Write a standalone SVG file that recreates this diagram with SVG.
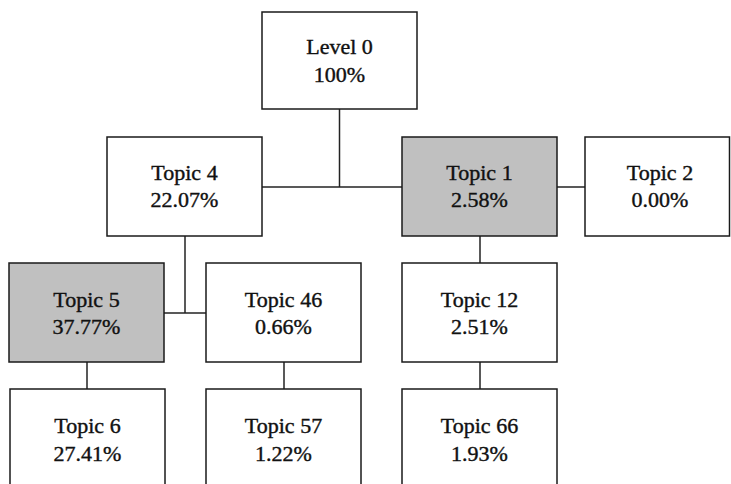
<svg xmlns="http://www.w3.org/2000/svg" width="731" height="484" viewBox="0 0 731 484">
  <style>
    .box { fill: #ffffff; stroke: #1a1a1a; stroke-width: 1.5; }
    .hl { fill: #c0c0c0; }
    .t { font-family: "Liberation Serif", "Times New Roman", serif; font-size: 22px; fill: #111; stroke: #111; stroke-width: 0.4; text-anchor: middle; }
    .conn line { stroke: #222; stroke-width: 1.5; }
  </style>
  <rect width="731" height="484" fill="#ffffff"/>
  <g id="connectors" class="conn">
    <line x1="339.5" y1="109" x2="339.5" y2="187"/>
    <line x1="262" y1="187" x2="402" y2="187"/>
    <line x1="557" y1="187" x2="585" y2="187"/>
    <line x1="185" y1="236" x2="185" y2="313"/>
    <line x1="164" y1="313" x2="206" y2="313"/>
    <line x1="480" y1="236" x2="480" y2="263"/>
    <line x1="87" y1="362" x2="87" y2="389"/>
    <line x1="284" y1="362" x2="284" y2="389"/>
    <line x1="480" y1="362" x2="480" y2="389"/>
  </g>
  <g id="level0">
    <rect class="box" x="262" y="12" width="155" height="97"/>
    <text class="t" x="339.5" y="54">Level 0</text>
    <text class="t" x="339.5" y="82">100%</text>
  </g>
  <g id="topic4">
    <rect class="box" x="107" y="137" width="155" height="99"/>
    <text class="t" x="184.5" y="180">Topic 4</text>
    <text class="t" x="184.5" y="207">22.07%</text>
  </g>
  <g id="topic1">
    <rect class="box hl" x="402" y="137" width="155" height="99"/>
    <text class="t" x="479.5" y="180">Topic 1</text>
    <text class="t" x="479.5" y="207">2.58%</text>
  </g>
  <g id="topic2">
    <rect class="box" x="585" y="137" width="144.5" height="99"/>
    <text class="t" x="660" y="180">Topic 2</text>
    <text class="t" x="660" y="207">0.00%</text>
  </g>
  <g id="topic5">
    <rect class="box hl" x="9" y="263" width="155" height="99"/>
    <text class="t" x="86.5" y="307">Topic 5</text>
    <text class="t" x="86.5" y="334">37.77%</text>
  </g>
  <g id="topic46">
    <rect class="box" x="206" y="263" width="155" height="99"/>
    <text class="t" x="283.5" y="307">Topic 46</text>
    <text class="t" x="283.5" y="334">0.66%</text>
  </g>
  <g id="topic12">
    <rect class="box" x="402" y="263" width="155" height="99"/>
    <text class="t" x="479.5" y="307">Topic 12</text>
    <text class="t" x="479.5" y="334">2.51%</text>
  </g>
  <g id="topic6">
    <rect class="box" x="10" y="389" width="155" height="99"/>
    <text class="t" x="87.5" y="433">Topic 6</text>
    <text class="t" x="87.5" y="461">27.41%</text>
  </g>
  <g id="topic57">
    <rect class="box" x="206" y="389" width="155" height="99"/>
    <text class="t" x="283.5" y="433">Topic 57</text>
    <text class="t" x="283.5" y="461">1.22%</text>
  </g>
  <g id="topic66">
    <rect class="box" x="402" y="389" width="155" height="99"/>
    <text class="t" x="479.5" y="433">Topic 66</text>
    <text class="t" x="479.5" y="461">1.93%</text>
  </g>
</svg>
